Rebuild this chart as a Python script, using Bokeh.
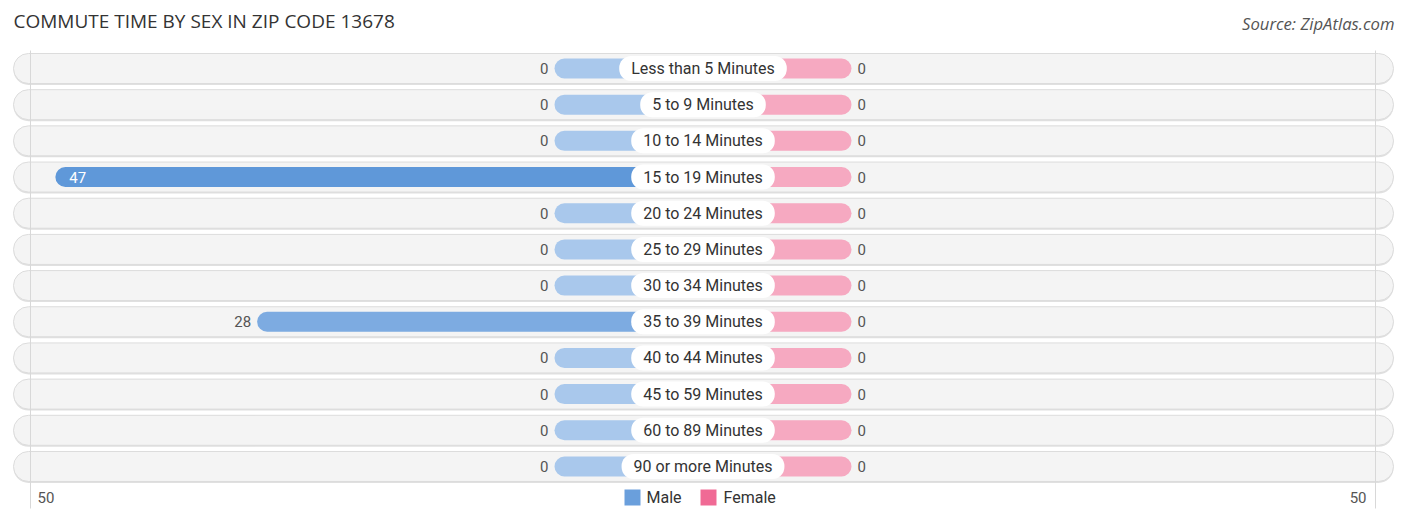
from bokeh.plotting import figure
from bokeh.models import Range1d
from bokeh.core.properties import value
from bokeh.embed import file_html
from bokeh.resources import INLINE
import numpy as np

# ---------------- data ----------------
categories = ["Less than 5 Minutes", "5 to 9 Minutes", "10 to 14 Minutes", "15 to 19 Minutes",
              "20 to 24 Minutes", "25 to 29 Minutes", "30 to 34 Minutes", "35 to 39 Minutes",
              "40 to 44 Minutes", "45 to 59 Minutes", "60 to 89 Minutes", "90 or more Minutes"]
male = [0, 0, 0, 47, 0, 0, 0, 28, 0, 0, 0, 0]
female = [0, 0, 0, 0, 0, 0, 0, 0, 0, 0, 0, 0]
axis_max = 50
tick_labels = ["50", "50"]
legend_labels = ["Male", "Female"]
title_text = "COMMUTE TIME BY SEX IN ZIP CODE 13678"
source_text = "Source: ZipAtlas.com"

# ---------------- layout ----------------
W, H = 1400, 516
PX = 10.62          # pixels per unit
CX = 702.5          # centre line in figure pixels
ROW = 36.18         # row pitch in pixels
Y0 = 68             # first row centre in figure pixels
STUB = 148.5 / PX   # base length of every bar
GRID_INSET = 7 / PX

def dx(px):
    return (px - CX) / PX

def dy(py):
    return (py - Y0) / ROW

def mix(c1, c2, t):
    a = [int(c1[i:i + 2], 16) for i in (1, 3, 5)]
    b = [int(c2[i:i + 2], 16) for i in (1, 3, 5)]
    return "#" + "".join("%02x" % round(a[k] + (b[k] - a[k]) * t) for k in range(3))

p = figure(width=W, height=H, x_range=Range1d(dx(0), dx(W)), y_range=Range1d(dy(H), dy(0)),
           output_backend="svg", toolbar_location=None, min_border=0,
           x_axis_location=None, y_axis_location=None, outline_line_color=None)
p.grid.visible = False
p.background_fill_color = "white"
p.border_fill_color = "white"

rows = np.arange(len(categories))
male_a = np.array(male, dtype=float)
female_a = np.array(female, dtype=float)
mmax = max(male_a.max(), 1)
fmax = max(female_a.max(), 1)

# row background pills (shadow + pill)
p.hbar(y=rows + 1.5 / ROW, left=dx(13), right=dx(1393), height=30 / ROW,
       fill_color="#e0e0e0", line_color=None, border_radius=15)
p.hbar(y=rows, left=dx(13), right=dx(1393), height=30 / ROW,
       fill_color="#f4f4f4", line_color="#dcdcdc", line_width=1, border_radius=15)

# vertical grid lines at the axis extremes
edge = STUB + axis_max - GRID_INSET
gx = [-edge, edge]
p.segment(x0=gx, x1=gx, y0=[dy(50)] * 2, y1=[dy(508)] * 2, line_color="#d8d8d8", line_width=1)

# bars
male_colors = [mix("#a9c8ec", "#5f98d9", v / mmax) for v in male_a]
female_colors = [mix("#f6a9c1", "#f06292", v / fmax) for v in female_a]
p.hbar(y=rows, left=-(STUB + male_a), right=0, height=20 / ROW,
       fill_color=male_colors, line_color=None, border_radius=10)
p.hbar(y=rows, left=0, right=STUB + female_a, height=20 / ROW,
       fill_color=female_colors, line_color=None, border_radius=10)

# value labels
inside = male_a >= 0.85 * mmax
mi = rows[inside]
mo = rows[~inside]
if len(mo):
    p.text(x=-(STUB + male_a[~inside]), y=mo, text=[str(int(v)) for v in male_a[~inside]],
           x_offset=-6, text_align="right", text_baseline="middle",
           text_font=value("Roboto"), text_font_size=value("15px"), text_color="#555555")
if len(mi):
    p.text(x=-(STUB + male_a[inside]), y=mi, text=[str(int(v)) for v in male_a[inside]],
           x_offset=14, text_align="left", text_baseline="middle",
           text_font=value("Roboto"), text_font_size=value("15px"), text_color="white")
p.text(x=STUB + female_a, y=rows, text=[str(int(v)) for v in female_a],
       x_offset=6, text_align="left", text_baseline="middle",
       text_font=value("Roboto"), text_font_size=value("15px"), text_color="#555555")

# category labels in white pills
p.text(x=0, y=rows, text=categories, text_align="center", text_baseline="middle",
       text_font=value("Roboto"), text_font_size=value("16px"), text_color="#333333",
       background_fill_color="white", border_radius=12,
       padding=dict(left=12, right=12, top=3, bottom=3))

# axis tick labels
p.text(x=[-edge], y=[dy(497)], text=[tick_labels[0]], x_offset=7,
       text_align="left", text_baseline="middle",
       text_font=value("Roboto"), text_font_size=value("15px"), text_color="#555555")
p.text(x=[edge], y=[dy(497)], text=[tick_labels[1]], x_offset=-9,
       text_align="right", text_baseline="middle",
       text_font=value("Roboto"), text_font_size=value("15px"), text_color="#555555")

# legend
p.scatter(x=[dx(632), dx(708)], y=[dy(497)] * 2, marker="square", size=16,
          fill_color=["#6a9fdc", "#f06a95"], line_color=None)
p.text(x=[dx(646), dx(723)], y=[dy(497)] * 2, text=legend_labels,
       text_align="left", text_baseline="middle",
       text_font=value("Roboto"), text_font_size=value("16px"), text_color="#333333")

# title and source
p.text(x=[dx(13)], y=[dy(20)], text=[title_text], text_align="left", text_baseline="middle",
       text_font=value("Open Sans"), text_font_size=value("19px"), text_color="#333333")
p.text(x=[dx(1394)], y=[dy(23)], text=[source_text], text_align="right", text_baseline="middle",
       text_font=value("Open Sans"), text_font_size=value("16.7px"), text_font_style="italic",
       text_color="#555555")

open("out.html", "w").write(file_html(p, INLINE))
